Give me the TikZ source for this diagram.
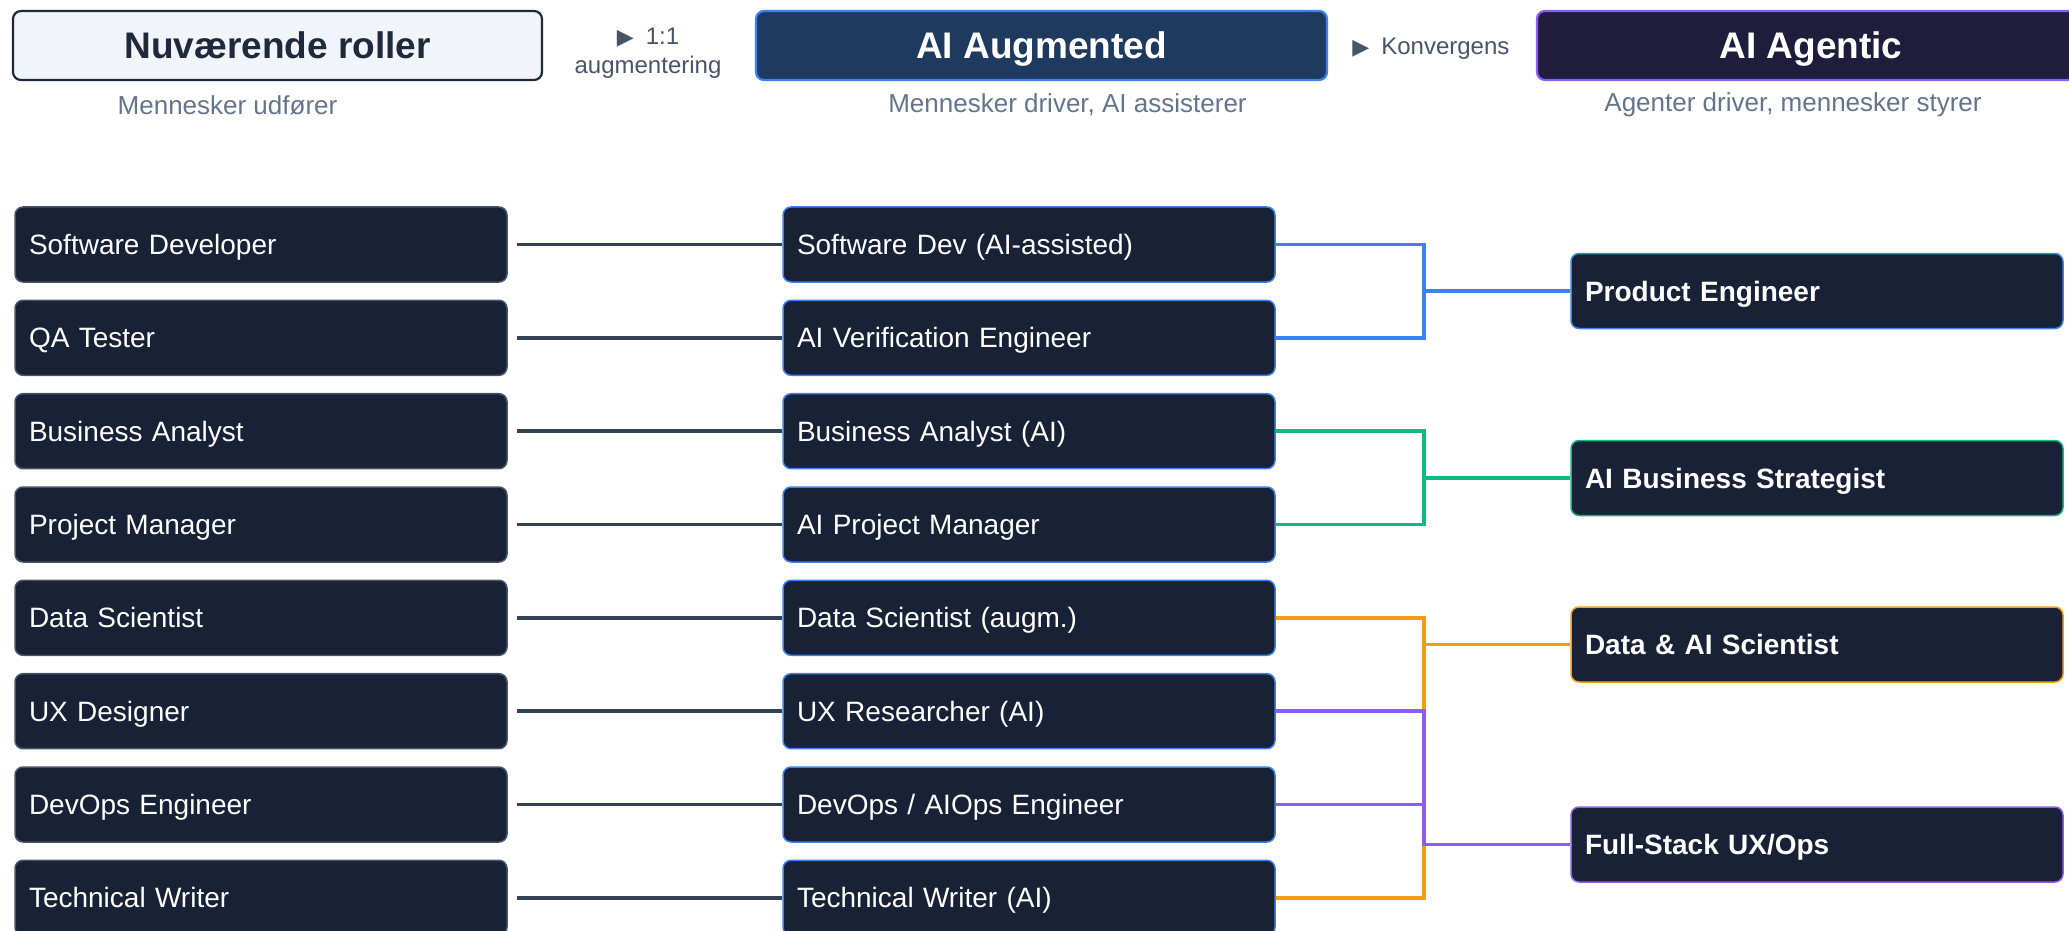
\documentclass[tikz,border=0pt]{standalone}
\usepackage{fontspec}
\setmainfont{Liberation Sans}
\newfontfamily\symfont{DejaVu Sans}
\definecolor{rolefill}{HTML}{182136}
\definecolor{slategrey}{HTML}{475569}
\definecolor{slatedark}{HTML}{1E293B}
\definecolor{linkgrey}{HTML}{334155}
\definecolor{subgrey}{HTML}{64748B}
\definecolor{aiblue}{HTML}{3B82F6}
\definecolor{aigreen}{HTML}{10B981}
\definecolor{aiorange}{HTML}{F59E0B}
\definecolor{aipurple}{HTML}{8B5CF6}
\definecolor{stageone}{HTML}{F1F4F8}
\definecolor{stagetwo}{HTML}{1E3A5F}
\definecolor{stagethree}{HTML}{1F1D3B}
\tikzset{stage/.style = {rectangle, rounded corners=4pt, line width=1.1pt, text=white,
                         font=\fontsize{18.5}{20}\selectfont\bfseries,
                         minimum height=34.5pt, text height=13.2pt, text depth=0pt}}
\tikzset{sub/.style = {text=subgrey, font=\fontsize{13}{15}\selectfont, inner sep=0}}
\tikzset{hint/.style = {text=slategrey, font=\fontsize{12}{14.5}\selectfont, inner sep=0}}
\tikzset{role/.style = {rectangle, rounded corners=4pt, fill=rolefill, line width=0.75pt,
                        text=white, font=\fontsize{14}{16}\selectfont, align=left,
                        text width=232pt, inner xsep=7pt, inner ysep=0pt,
                        minimum height=37.5pt, text height=10pt, text depth=0pt}}
\tikzset{oldrole/.style = {role, draw=slategrey}}
\tikzset{airole/.style = {role, draw=aiblue}}
\tikzset{agentrole/.style = {role, font=\fontsize{14}{16}\selectfont\bfseries}}
\tikzset{link/.style = {draw=linkgrey, line width=1.8pt, shorten <=4.5pt}}
\tikzset{bracket/.style = {line width=1.8pt}}

\begin{document}
\begin{tikzpicture}[x=0.5pt, y=-0.5pt]
    \useasboundingbox (0,0) rectangle (2069,931);
    \clip (0,0) rectangle (2069,931);

    % stages
    \node [stage, fill=stageone, draw=slatedark, text=slatedark, minimum width=264.5pt] (now) at (277.5,45.5) {Nuværende roller};
    \node [stage, fill=stagetwo, draw=aiblue, minimum width=285.5pt] (aug) at (1041.5,45.5) {AI Augmented};
    \node [stage, fill=stagethree, draw=aipurple, minimum width=274pt] (agt) at (1811,45.5) {AI Agentic};

    \node [sub] (nowsub) at (227.5,105) {Mennesker udfører};
    \node [sub] (augsub) at (1067.5,105) {Mennesker driver, AI assisterer};
    \node [sub] (agtsub) at (1793,105) {Agenter driver, mennesker styrer};

    \node [hint, align=center] (augstep) at (648,53) {{\symfont\fontsize{11}{10}\selectfont ▶}\hspace{6pt}1:1\\augmentering};
    \node [hint, anchor=west] (agtstep) at (1352,49) {{\symfont\fontsize{11}{10}\selectfont ▶}\hspace{6pt}Konvergens};

    % current roles
    \node [oldrole] (sd) at (261,244.5) {Software Developer};
    \node [oldrole] (qa) at (261,337.8) {QA Tester};
    \node [oldrole] (ba) at (261,431.2) {Business Analyst};
    \node [oldrole] (pm) at (261,524.5) {Project Manager};
    \node [oldrole] (ds) at (261,617.8) {Data Scientist};
    \node [oldrole] (ux) at (261,711.2) {UX Designer};
    \node [oldrole] (devops) at (261,804.5) {DevOps Engineer};
    \node [oldrole] (tw) at (261,897.8) {Technical Writer};

    % augmented roles
    \node [airole] (sdai) at (1029,244.5) {Software Dev (AI-assisted)};
    \node [airole] (qaai) at (1029,337.8) {AI Verification Engineer};
    \node [airole] (baai) at (1029,431.2) {Business Analyst (AI)};
    \node [airole] (pmai) at (1029,524.5) {AI Project Manager};
    \node [airole] (dsai) at (1029,617.8) {Data Scientist (augm.)};
    \node [airole] (uxai) at (1029,711.2) {UX Researcher (AI)};
    \node [airole] (devopsai) at (1029,804.5) {DevOps / AIOps Engineer};
    \node [airole] (twai) at (1029,897.8) {Technical Writer (AI)};

    % agentic roles
    \node [agentrole, draw=aiblue] (pe) at (1817,291) {Product Engineer};
    \node [agentrole, draw=aigreen] (abs) at (1817,478) {AI Business Strategist};
    \node [agentrole, draw=aiorange] (das) at (1817,644.5) {Data \& AI Scientist};
    \node [agentrole, draw=aipurple] (fs) at (1817,844.5) {Full-Stack UX/Ops};

    \draw [link] (sd) -- (sdai);
    \draw [link] (qa) -- (qaai);
    \draw [link] (ba) -- (baai);
    \draw [link] (pm) -- (pmai);
    \draw [link] (ds) -- (dsai);
    \draw [link] (ux) -- (uxai);
    \draw [link] (devops) -- (devopsai);
    \draw [link] (tw) -- (twai);

    \coordinate (pej) at (1424,291);
    \coordinate (absj) at (1424,478);
    \coordinate (dasj) at (1424,644.5);
    \coordinate (fsj) at (1424,844.5);

    \draw [bracket, aiblue] (sdai.east) -| (pej) |- (qaai.east);
    \draw [bracket, aiblue] (pej) -- (pe.west);
    \draw [bracket, aigreen] (baai.east) -| (absj) |- (pmai.east);
    \draw [bracket, aigreen] (absj) -- (abs.west);
    \draw [bracket, aiorange] (dsai.east) -| (dasj) |- (twai.east);
    \draw [bracket, aiorange] (dasj) -- (das.west);
    \draw [bracket, aipurple] (uxai.east) -| (fsj);
    \draw [bracket, aipurple] (devopsai.east) -| (fsj) -- (fs.west);
\end{tikzpicture}
\end{document}
